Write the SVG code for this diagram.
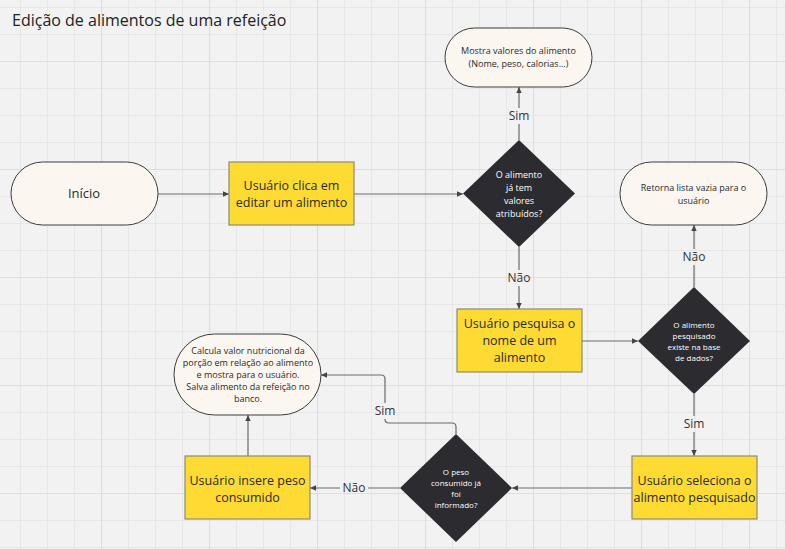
<svg xmlns="http://www.w3.org/2000/svg" width="785" height="549" viewBox="0 0 785 549">
<defs>
<pattern id="minor" patternUnits="userSpaceOnUse" x="20" y="7" width="27" height="27">
<path d="M0.5,0 V27 M0,0.5 H27" fill="none" stroke="#e7e7e7" stroke-width="1"/>
</pattern>
<pattern id="major" patternUnits="userSpaceOnUse" x="101" y="61" width="108" height="108">
<path d="M0.5,0 V108 M0,0.5 H108" fill="none" stroke="#dedede" stroke-width="1.2"/>
</pattern>
<marker id="arr" viewBox="0 0 10 10" refX="9" refY="5" markerWidth="7" markerHeight="7" orient="auto" markerUnits="userSpaceOnUse">
<path d="M0,1 L9,5 L0,9 z" fill="#444"/>
</marker>
<style>
.term{fill:#fbf7f0;stroke:#3c3c3c;stroke-width:1}
.proc{fill:#fedb33;stroke:#8c8a78;stroke-width:1.2}
.dec{fill:#2b2b30}
.t{font-family:"Open Sans","Noto Sans",sans-serif;fill:#2a2a2a;text-anchor:middle}
.pt{font-size:12.5px}
.st{font-size:9px}
.dt{font-family:"Open Sans","Noto Sans",sans-serif;fill:#ffffff;text-anchor:middle;font-size:9px}
.ds{font-size:8px}
.lbl{font-family:"Open Sans","Noto Sans",sans-serif;fill:#333;text-anchor:middle;font-size:12px}
.c{fill:none;stroke:#6a6a6a;stroke-width:1.2}
</style>
</defs>
<rect width="785" height="549" fill="#f2f2f2"/>
<rect width="785" height="549" fill="url(#minor)"/>
<rect width="785" height="549" fill="url(#major)"/>

<text x="12" y="26" font-family="'Open Sans','Noto Sans',sans-serif" font-size="16" fill="#222">Edição de alimentos de uma refeição</text>

<g id="connectors">
<path class="c" d="M158,194 H229" marker-end="url(#arr)"/>
<path class="c" d="M354,194 H463" marker-end="url(#arr)"/>
<path class="c" d="M519,140 V124 M519,108 V87" marker-end="url(#arr)"/>
<path class="c" d="M519,247 V270 M519,286 V309" marker-end="url(#arr)"/>
<path class="c" d="M582,341 H638" marker-end="url(#arr)"/>
<path class="c" d="M694,287 V265 M694,249 V225" marker-end="url(#arr)"/>
<path class="c" d="M694,394 V416 M694,432 V456" marker-end="url(#arr)"/>
<path class="c" d="M632,488 H512" marker-end="url(#arr)"/>
<path class="c" d="M400,488 H368 M340,488 H310" marker-end="url(#arr)"/>
<path class="c" d="M248,456 V415" marker-end="url(#arr)"/>
<path class="c" d="M456,434 V427 Q456,423 452,423 H389 Q385,423 385,419 M385,403 V379 Q385,375 381,375 H321" marker-end="url(#arr)"/>
<text class="lbl" x="519" y="120">Sim</text>
<text class="lbl" x="519" y="282">Não</text>
<text class="lbl" x="694" y="261">Não</text>
<text class="lbl" x="694" y="428">Sim</text>
<text class="lbl" x="354" y="492">Não</text>
<text class="lbl" x="385" y="415">Sim</text>
</g>

<g id="inicio">
<rect class="term" x="11" y="162" width="147" height="63" rx="31.5"/>
<text class="t" x="84" y="198" font-size="13">Início</text>
</g>

<g id="clica">
<rect class="proc" x="229" y="162" width="125" height="63"/>
<text class="t pt" x="291.5" y="190">Usuário clica em</text>
<text class="t pt" x="291.5" y="207">editar um alimento</text>
</g>

<g id="dec1">
<polygon class="dec" points="519,140 575,193.5 519,247 463,193.5"/>
<text class="dt" x="519" y="178">O alimento</text>
<text class="dt" x="519" y="191">já tem</text>
<text class="dt" x="519" y="204">valores</text>
<text class="dt" x="519" y="217">atribuídos?</text>
</g>

<g id="mostra">
<rect class="term" x="445" y="28" width="147" height="59" rx="29.5"/>
<text class="t st" x="518.5" y="54">Mostra valores do alimento</text>
<text class="t st" x="518.5" y="67">(Nome, peso, calorias...)</text>
</g>

<g id="pesquisa">
<rect class="proc" x="457" y="309" width="125" height="63"/>
<text class="t pt" x="519.5" y="328">Usuário pesquisa o</text>
<text class="t pt" x="519.5" y="345">nome de um</text>
<text class="t pt" x="519.5" y="362">alimento</text>
</g>

<g id="dec2">
<polygon class="dec" points="694,287 750,341 694,394 638,341"/>
<text class="dt ds" x="694" y="328">O alimento</text>
<text class="dt ds" x="694" y="339">pesquisado</text>
<text class="dt ds" x="694" y="350">existe na base</text>
<text class="dt ds" x="694" y="361">de dados?</text>
</g>

<g id="retorna">
<rect class="term" x="620" y="162" width="147" height="63" rx="31.5"/>
<text class="t st" x="693.5" y="191">Retorna lista vazia para o</text>
<text class="t st" x="693.5" y="204">usuário</text>
</g>

<g id="seleciona">
<rect class="proc" x="632" y="456" width="125" height="63"/>
<text class="t pt" x="694.5" y="485">Usuário seleciona o</text>
<text class="t pt" x="694.5" y="502">alimento pesquisado</text>
</g>

<g id="dec3">
<polygon class="dec" points="456,434 512,488 456,542 400,488"/>
<text class="dt ds" x="456" y="475">O peso</text>
<text class="dt ds" x="456" y="486">consumido já</text>
<text class="dt ds" x="456" y="497">foi</text>
<text class="dt ds" x="456" y="508">informado?</text>
</g>

<g id="insere">
<rect class="proc" x="185" y="456" width="125" height="63"/>
<text class="t pt" x="247.5" y="485">Usuário insere peso</text>
<text class="t pt" x="247.5" y="502">consumido</text>
</g>

<g id="calcula">
<rect class="term" x="174" y="334" width="147" height="81" rx="40.5"/>
<text class="t st" x="248" y="354">Calcula valor nutricional da</text>
<text class="t st" x="248" y="366">porção em relação ao alimento</text>
<text class="t st" x="248" y="378">e mostra para o usuário.</text>
<text class="t st" x="248" y="390">Salva alimento da refeição no</text>
<text class="t st" x="248" y="402">banco.</text>
</g>
</svg>
